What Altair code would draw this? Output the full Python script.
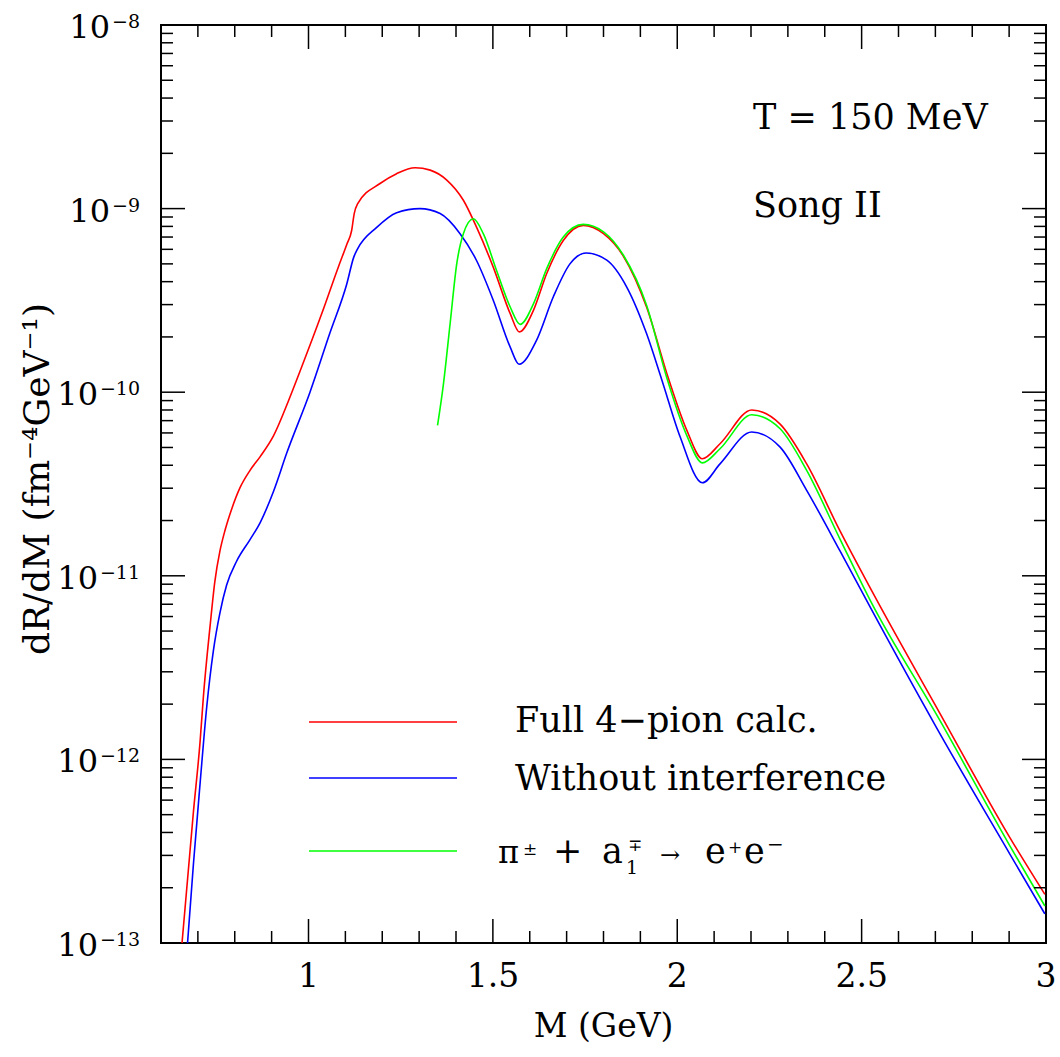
import altair as alt
import pandas as pd

# ---------------- data ----------------
red_m = [0.657, 0.688, 0.706, 0.715, 0.733, 0.746, 0.760, 0.774, 0.792, 0.814, 0.841, 0.869,
         0.905, 0.945, 0.977, 1.036, 1.081, 1.104, 1.117, 1.124, 1.133, 1.194, 1.239, 1.289,
         1.330, 1.375, 1.420, 1.456, 1.501, 1.547, 1.572, 1.610, 1.646, 1.691, 1.745, 1.800,
         1.854, 1.917, 1.976, 2.026, 2.068, 2.116, 2.202, 2.279, 2.351, 2.441, 2.532, 2.713,
         2.902, 2.997]
red_r = [1.0e-13, 5.2e-13, 1.25e-12, 2.2e-12, 5.3e-12, 9.3e-12, 1.37e-11, 1.78e-11, 2.32e-11,
         3.01e-11, 3.74e-11, 4.46e-11, 5.78e-11, 8.9e-11, 1.30e-10, 2.68e-10, 4.81e-10, 6.4e-10,
         7.6e-10, 9.4e-10, 1.06e-9, 1.37e-9, 1.55e-9, 1.67e-9, 1.62e-9, 1.43e-9, 1.11e-9,
         7.9e-10, 4.8e-10, 2.68e-10, 2.13e-10, 2.79e-10, 4.43e-10, 6.7e-10, 8.1e-10, 7.3e-10,
         5.5e-10, 2.9e-10, 1.19e-10, 6.2e-11, 4.34e-11, 5.24e-11, 8.0e-11, 6.7e-11, 4.07e-11,
         1.76e-11, 7.96e-12, 1.77e-12, 3.75e-13, 1.84e-13]

blue_m = [0.672, 0.688, 0.706, 0.724, 0.742, 0.760, 0.778, 0.805, 0.841, 0.869, 0.905, 0.941,
          1.004, 1.058, 1.104, 1.123, 1.132, 1.185, 1.239, 1.302, 1.357, 1.411, 1.456, 1.501,
          1.547, 1.571, 1.618, 1.664, 1.709, 1.753, 1.809, 1.863, 1.917, 1.958, 2.008, 2.068,
          2.116, 2.202, 2.279, 2.351, 2.441, 2.524, 2.703, 2.902, 2.997]
blue_r = [1.0e-13, 2.7e-13, 7.4e-13, 1.93e-12, 3.9e-12, 6.3e-12, 8.9e-12, 1.2e-11, 1.57e-11,
          1.95e-11, 2.88e-11, 4.66e-11, 1.0e-10, 2.1e-10, 3.9e-10, 5.46e-10, 5.98e-10, 7.9e-10,
          9.5e-10, 1.0e-9, 9.4e-10, 7.3e-10, 5.2e-10, 3.17e-10, 1.76e-10, 1.42e-10, 1.91e-10,
          3.31e-10, 5.0e-10, 5.73e-10, 5.24e-10, 3.74e-10, 2.08e-10, 1.17e-10, 5.7e-11, 3.21e-11,
          4.07e-11, 6.07e-11, 5.02e-11, 2.92e-11, 1.37e-11, 6.7e-12, 1.49e-12, 3.05e-13, 1.44e-13]

green_m = [1.350, 1.366, 1.384, 1.402, 1.420, 1.447, 1.474, 1.510, 1.547, 1.574, 1.610, 1.646,
           1.691, 1.745, 1.800, 1.854, 1.917, 1.971, 2.026, 2.068, 2.116, 2.202, 2.279, 2.351,
           2.441, 2.524, 2.713, 2.902, 2.997]
green_r = [6.6e-11, 1.11e-10, 2.36e-10, 5.0e-10, 7.3e-10, 8.8e-10, 7.3e-10, 4.6e-10, 2.91e-10,
           2.34e-10, 3.03e-10, 4.71e-10, 7.0e-10, 8.2e-10, 7.46e-10, 5.57e-10, 2.97e-10, 1.21e-10,
           5.8e-11, 4.12e-11, 4.92e-11, 7.53e-11, 6.32e-11, 3.75e-11, 1.59e-11, 7.3e-12, 1.62e-12,
           3.38e-13, 1.59e-13]

series_names = ["Without interference", "Full 4-pion calc.", "pi a1"]
series_colors = ["#0000ff", "#ff0000", "#00ff00"]

x_label_values = [1.0, 1.5, 2.0, 2.5, 3.0]
x_label_texts = ["1", "1.5", "2", "2.5", "3"]
x_major_ticks = [1.0, 1.5, 2.0, 2.5]
x_minor_ticks = [0.7, 0.8, 0.9, 1.1, 1.2, 1.3, 1.4, 1.6, 1.7, 1.8, 1.9,
                 2.1, 2.2, 2.3, 2.4, 2.6, 2.7, 2.8, 2.9]
y_label_values = [1e-13, 1e-12, 1e-11, 1e-10, 1e-9, 1e-8]
y_label_exps = ["\u221213", "\u221212", "\u221211", "\u221210", "\u22129", "\u22128"]
y_major_ticks = [1e-12, 1e-11, 1e-10, 1e-9]
y_minor_ticks = [k * 10.0 ** e for e in range(-13, -8) for k in range(2, 10)]

# ---------------- layout ----------------
W, H = 885, 918
F = "DejaVu Serif"
MAJ, MIN = 24, 12

df = pd.concat([
    pd.DataFrame({"M": blue_m, "R": blue_r, "series": series_names[0]}),
    pd.DataFrame({"M": red_m, "R": red_r, "series": series_names[1]}),
    pd.DataFrame({"M": green_m, "R": green_r, "series": series_names[2]}),
], ignore_index=True)

xs = alt.Scale(domain=[0.6, 3.0], nice=False, zero=False)
ys = alt.Scale(type="log", domain=[1e-13, 1e-8], nice=False)

curves = alt.Chart(df).mark_line(strokeWidth=1.6, interpolate="monotone").encode(
    x=alt.X("M:Q", scale=xs, axis=None),
    y=alt.Y("R:Q", scale=ys, axis=None),
    color=alt.Color("series:N", scale=alt.Scale(domain=series_names, range=series_colors),
                    legend=None),
)


def xticks(vals, L):
    d = pd.DataFrame({"v": vals})
    base = alt.Chart(d).mark_rule(color="black", strokeWidth=1.5)
    bot = base.encode(x=alt.X("v:Q", scale=xs, axis=None), y=alt.value(H), y2=alt.value(H - L))
    top = base.encode(x=alt.X("v:Q", scale=xs, axis=None), y=alt.value(0), y2=alt.value(L))
    return [bot, top]


def yticks(vals, L):
    d = pd.DataFrame({"v": vals})
    base = alt.Chart(d).mark_rule(color="black", strokeWidth=1.5)
    lft = base.encode(y=alt.Y("v:Q", scale=ys, axis=None), x=alt.value(0), x2=alt.value(L))
    rgt = base.encode(y=alt.Y("v:Q", scale=ys, axis=None), x=alt.value(W), x2=alt.value(W - L))
    return [lft, rgt]


xlab = pd.DataFrame({"v": x_label_values, "t": x_label_texts})
x_text = alt.Chart(xlab).mark_text(
    align="center", baseline="alphabetic", font=F, fontSize=33, color="black"
).encode(x=alt.X("v:Q", scale=xs, axis=None), y=alt.value(H + 44), text="t:N")

ylab = pd.DataFrame({"v": y_label_values, "e": y_label_exps})
exp_text = alt.Chart(ylab).mark_text(
    align="right", baseline="alphabetic", dy=3, font=F, fontSize=19, color="black"
).encode(y=alt.Y("v:Q", scale=ys, axis=None), x=alt.value(-21), text="e:N")
base_short = alt.Chart(ylab).transform_filter("length(datum.e) == 2").mark_text(
    align="right", baseline="alphabetic", dy=13, font=F, fontSize=32, color="black"
).encode(y=alt.Y("v:Q", scale=ys, axis=None), x=alt.value(-51), text=alt.value("10"))
base_long = alt.Chart(ylab).transform_filter("length(datum.e) == 3").mark_text(
    align="right", baseline="alphabetic", dy=13, font=F, fontSize=32, color="black"
).encode(y=alt.Y("v:Q", scale=ys, axis=None), x=alt.value(-63), text=alt.value("10"))

dummy = pd.DataFrame({"k": [0]})


def txt(s, x, y, size, angle=0, align="left"):
    kw = dict(align=align, baseline="alphabetic", font=F, fontSize=size, color="black", text=s)
    if angle:
        kw["angle"] = angle
    return alt.Chart(dummy).mark_text(**kw).encode(x=alt.value(x), y=alt.value(y))


def leg_line(color, y):
    return alt.Chart(dummy).mark_rule(color=color, strokeWidth=1.6).encode(
        x=alt.value(148), x2=alt.value(296), y=alt.value(y))


texts = [
    txt("M (GeV)", W / 2, 1012, 33, align="center"),
    txt("dR/dM (fm\u207b\u2074GeV\u207b\u00b9)", -112, 454, 36, angle=270, align="center"),
    txt("T = 150 MeV", 592, 104, 35),
    txt("Song II", 592, 192, 35),
    txt("Full 4\u2212pion calc.", 354, 707, 35),
    txt("Without interference", 354, 765, 35),
    txt("\u03c0", 337, 838, 32),
    txt("\u00b1", 362, 830, 17),
    txt("+", 392, 838, 35),
    txt("a", 441, 838, 35),
    txt("1", 465, 849, 19),
    txt("\u2213", 467, 826, 17),
    txt("\u2192", 499, 838, 24),
    txt("e", 544, 838, 35),
    txt("+", 567, 828, 17),
    txt("e", 583, 838, 35),
    txt("\u2212", 606, 826, 20),
]

legend_lines = [
    leg_line("#ff0000", 697),
    leg_line("#0000ff", 753),
    leg_line("#00ff00", 826),
]

layers = ([curves] + xticks(x_major_ticks, MAJ) + xticks(x_minor_ticks, MIN)
          + yticks(y_major_ticks, MAJ) + yticks(y_minor_ticks, MIN)
          + [x_text, exp_text, base_short, base_long] + legend_lines + texts)

chart = alt.layer(*layers).properties(
    width=W, height=H,
    autosize=alt.AutoSizeParams(type="none"),
    padding={"left": 161, "top": 25, "right": 14, "bottom": 114},
    background="white",
).configure_view(stroke="black", strokeWidth=2)

chart.save("out.html", embed_options={"renderer": "svg", "actions": False})
